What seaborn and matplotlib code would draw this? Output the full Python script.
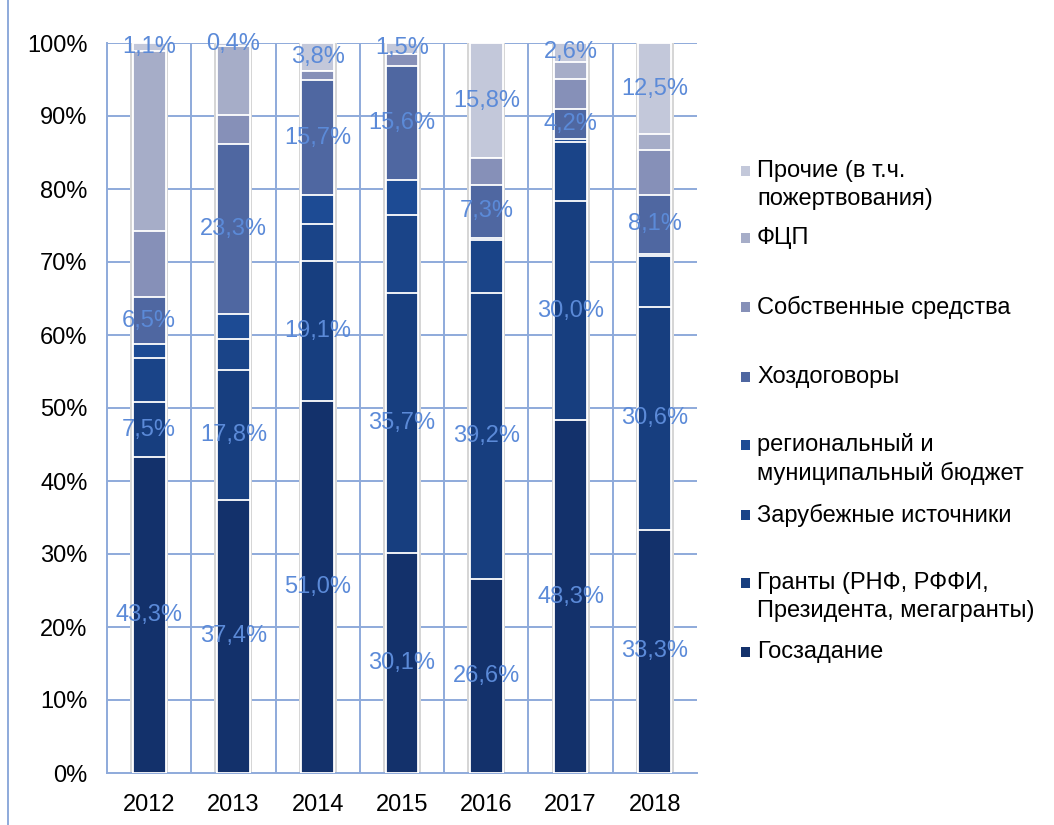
import matplotlib.pyplot as plt
import seaborn as sns
from matplotlib.patches import Rectangle
from matplotlib.lines import Line2D

# -----------------------------
# Data (shares, %)
# -----------------------------
years = ["2012", "2013", "2014", "2015", "2016", "2017", "2018"]

categories = [
    "Госзадание",
    "Гранты (РНФ, РФФИ,\nПрезидента, мегагранты)",
    "Зарубежные источники",
    "региональный и\nмуниципальный бюджет",
    "Хоздоговоры",
    "Собственные средства",
    "ФЦП",
    "Прочие (в т.ч.\nпожертвования)",
]

goszadanie = [43.3, 37.4, 51.0, 30.1, 26.6, 48.3, 33.3]
granty = [7.5, 17.8, 19.1, 35.7, 39.2, 30.0, 30.6]
zarubezhnye = [6.1, 4.2, 5.1, 10.6, 7.2, 8.1, 6.9]
regionalnyi = [1.8, 3.5, 4.0, 4.8, 0.3, 0.4, 0.3]
hozdogovory = [6.5, 23.3, 15.7, 15.6, 7.3, 4.2, 8.1]
sobstvennye = [9.0, 4.0, 1.3, 1.7, 3.6, 4.1, 6.1]
fcp = [24.7, 9.4, 0.0, 0.0, 0.0, 2.3, 2.2]
prochie = [1.1, 0.4, 3.8, 1.5, 15.8, 2.6, 12.5]

series = [goszadanie, granty, zarubezhnye, regionalnyi,
          hozdogovory, sobstvennye, fcp, prochie]
labeled = [0, 1, 4, 7]  # series that carry value labels

colors = ["#13316b", "#173e7f", "#1a4488", "#1d4b94",
          "#4f67a1", "#8690b8", "#a6adc8", "#c3c8da"]
grid_c = "#8eaadb"
label_c = "#5b8ad8"
fs = 17

# -----------------------------
# Style
# -----------------------------
sns.set_style("white")
plt.rcParams["font.family"] = ["Liberation Sans", "DejaVu Sans"]

fig = plt.figure(figsize=(10.54, 8.25), dpi=100)
ax = fig.add_axes([107 / 1054, 1 - 773 / 825, 590 / 1054, 730 / 825])

# cumulative tops
cums = []
run = [0.0] * len(years)
for s in series:
    run = [a + b for a, b in zip(run, s)]
    cums.append(run)

# soft shadow behind bars
sns.barplot(x=years, y=cums[-1], color="#d6d6d6", saturation=1,
            width=0.45, linewidth=0, ax=ax, zorder=2)

# stacked bars: draw tallest first, overlay the smaller cumulative ones
for i in range(len(series) - 1, -1, -1):
    sns.barplot(x=years, y=cums[i], color=colors[i], saturation=1,
                width=0.39, edgecolor="white", linewidth=1.3,
                ax=ax, zorder=3)

# value labels
for i in labeled:
    for j, v in enumerate(series[i]):
        bottom = cums[i][j] - v
        ax.text(j, bottom + v / 2, f"{v:.1f}%".replace(".", ","),
                ha="center", va="center", color=label_c, fontsize=fs,
                zorder=5)

# -----------------------------
# Axes
# -----------------------------
ax.set_xlim(-0.5, 6.5)
ax.set_ylim(0, 100)
ax.set_yticks(range(0, 101, 10))
ax.set_yticklabels([f"{t}%" for t in range(0, 101, 10)])
ax.set_xlabel("")
ax.set_ylabel("")

ax.grid(False)
for t in range(10, 101, 10):
    ax.axhline(t, color=grid_c, lw=1.4, zorder=1)
for k in range(1, len(years)):
    ax.axvline(k - 0.5, color=grid_c, lw=1.4, zorder=1)

for side in ["top", "right"]:
    ax.spines[side].set_visible(False)
for side in ["left", "bottom"]:
    ax.spines[side].set_color(grid_c)
    ax.spines[side].set_linewidth(1.4)

ax.set_xticks([k - 0.5 for k in range(len(years) + 1)], minor=True)
ax.tick_params(axis="x", which="major", length=0, pad=15, labelsize=fs,
               labelcolor="black")
ax.tick_params(axis="x", which="minor", length=8, width=1.4, color=grid_c)
ax.tick_params(axis="y", length=7, width=1.4, color=grid_c, pad=7,
               labelsize=fs, labelcolor="black")

# -----------------------------
# Legend (manual, reversed order)
# -----------------------------
leg_y = [652, 583, 515, 445, 377, 307, 238, 171]
for i, name in enumerate(categories):
    yc = leg_y[i]
    fig.add_artist(Rectangle((741 / 1054, 1 - (yc + 5) / 825),
                             9 / 1054, 10 / 825, transform=fig.transFigure,
                             facecolor=colors[i], edgecolor="none"))
    for n, line in enumerate(name.split("\n")):
        fig.text(757 / 1054, 1 - (yc + 28 * n) / 825, line, ha="left",
                 va="center", fontsize=fs, color="black")

# figure border on the left
fig.add_artist(Line2D([8 / 1054, 8 / 1054], [0, 1], color=grid_c, lw=1.4,
                      transform=fig.transFigure))

fig.savefig("out.png", dpi=100)
